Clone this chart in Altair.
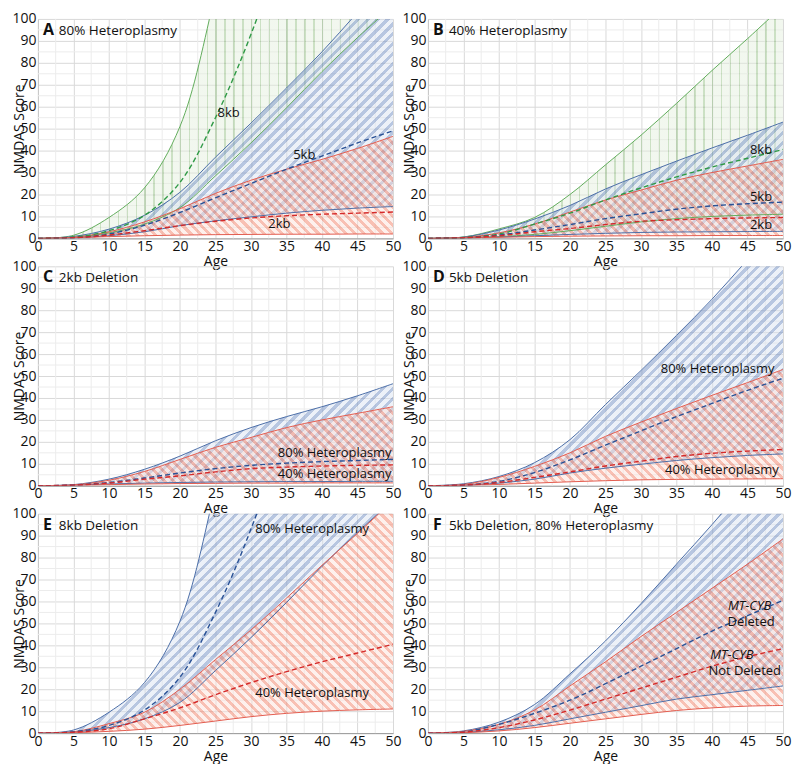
import math
import altair as alt
import pandas as pd

# ---------------- data ----------------
ages = [0, 5, 10, 15, 20, 25, 30, 35, 40, 45, 50]

kb2_h80_lo = [0, 0.3, 0.8, 1.2, 1.5, 1.7, 1.8, 1.9, 1.9, 2.0, 2.0]
kb2_h80_med = [0, 0.3, 1.5, 3.5, 5.8, 7.8, 9.3, 10.3, 11.0, 11.5, 12.0]
kb2_h80_hi = [0, 0.5, 3.0, 7.5, 13.5, 20.5, 26.5, 31.5, 36.0, 41.0, 46.5]
kb2_h40_lo = [0, 0.2, 0.5, 0.8, 1.0, 1.1, 1.2, 1.2, 1.3, 1.3, 1.3]
kb2_h40_med = [0, 0.3, 1.2, 3.0, 4.5, 6.3, 7.8, 8.5, 9.0, 9.3, 9.5]
kb2_h40_hi = [0, 0.4, 2.5, 6.5, 12.0, 17.5, 22.0, 26.5, 30.0, 33.0, 36.0]

kb5_h80_lo = [0, 0.2, 1.2, 3.0, 5.8, 8.0, 9.8, 11.5, 12.8, 13.8, 14.5]
kb5_h80_med = [0, 0.3, 2.0, 6.0, 11.8, 18.5, 25.0, 31.5, 37.5, 43.5, 49.0]
kb5_h80_hi = [0, 0.9, 4.2, 10.5, 21.0, 37.0, 52.5, 68.5, 85.0, 103.0, 121.0]
kb5_h40_lo = [0, 0.2, 0.6, 1.2, 1.8, 2.3, 2.7, 2.9, 3.0, 3.1, 3.2]
kb5_h40_med = [0, 0.3, 1.5, 3.8, 6.3, 9.0, 11.2, 13.3, 14.8, 15.8, 16.5]
kb5_h40_hi = [0, 0.6, 3.8, 8.8, 15.0, 22.5, 29.0, 35.2, 41.2, 47.0, 53.0]

kb8_h80_lo = [0, 0.5, 2.5, 6.5, 14.0, 28.5, 43.5, 59.5, 76.0, 91.5, 106.0]
kb8_h80_med = [0, 0.6, 3.5, 10.5, 25.5, 55.0, 93.0, 140.0, 195.0, 255.0, 320.0]
kb8_h80_hi = [0, 1.4, 9.5, 23.0, 51.0, 112.0, 190.0, 280.0, 380.0, 490.0, 610.0]
kb8_h40_lo = [0, 0.2, 0.8, 1.8, 3.5, 5.5, 7.5, 9.0, 10.0, 10.6, 11.0]
kb8_h40_med = [0, 0.4, 2.0, 6.5, 11.5, 17.5, 23.0, 28.0, 32.5, 36.5, 40.5]
kb8_h40_hi = [0, 0.6, 4.3, 9.5, 20.0, 33.5, 47.0, 61.5, 76.5, 91.0, 106.0]

cyb_del_lo = [0, 0.3, 1.5, 3.5, 6.5, 9.5, 12.5, 15.5, 17.5, 19.5, 21.5]
cyb_del_med = [0, 0.5, 4.0, 9.0, 15.0, 22.5, 30.5, 38.5, 46.5, 53.5, 60.5]
cyb_del_hi = [0, 1.0, 5.0, 13.0, 27.0, 42.0, 59.0, 77.0, 95.0, 114.0, 133.0]
cyb_keep_lo = [0, 0.2, 1.0, 2.5, 4.5, 6.5, 8.5, 10.3, 11.5, 12.3, 12.6]
cyb_keep_med = [0, 0.4, 2.5, 6.0, 10.5, 15.5, 20.5, 25.5, 30.5, 34.8, 38.5]
cyb_keep_hi = [0, 0.8, 4.0, 10.5, 21.5, 32.5, 44.0, 55.0, 66.0, 77.0, 88.5]

# tick labels / grid positions
x_major = [0, 5, 10, 15, 20, 25, 30, 35, 40, 45, 50]
x_minor = [2.5, 7.5, 12.5, 17.5, 22.5, 27.5, 32.5, 37.5, 42.5, 47.5]
y_major = [0, 10, 20, 30, 40, 50, 60, 70, 80, 90, 100]
y_minor = [5, 15, 25, 35, 45, 55, 65, 75, 85, 95]

panel_letters = ["A", "B", "C", "D", "E", "F"]
panel_names = ["80% Heteroplasmy", "40% Heteroplasmy", "2kb Deletion",
               "5kb Deletion", "8kb Deletion", "5kb Deletion, 80% Heteroplasmy"]

panel_bands = [
    [("green", kb8_h80_lo, kb8_h80_med, kb8_h80_hi),
     ("blue", kb5_h80_lo, kb5_h80_med, kb5_h80_hi),
     ("red", kb2_h80_lo, kb2_h80_med, kb2_h80_hi)],
    [("green", kb8_h40_lo, kb8_h40_med, kb8_h40_hi),
     ("blue", kb5_h40_lo, kb5_h40_med, kb5_h40_hi),
     ("red", kb2_h40_lo, kb2_h40_med, kb2_h40_hi)],
    [("blue", kb2_h80_lo, kb2_h80_med, kb2_h80_hi),
     ("red", kb2_h40_lo, kb2_h40_med, kb2_h40_hi)],
    [("blue", kb5_h80_lo, kb5_h80_med, kb5_h80_hi),
     ("red", kb5_h40_lo, kb5_h40_med, kb5_h40_hi)],
    [("blue", kb8_h80_lo, kb8_h80_med, kb8_h80_hi),
     ("red", kb8_h40_lo, kb8_h40_med, kb8_h40_hi)],
    [("blue", cyb_del_lo, cyb_del_med, cyb_del_hi),
     ("red", cyb_keep_lo, cyb_keep_med, cyb_keep_hi)],
]

# annotations: (text, age, score, align, italic)
panel_notes = [
    [("8kb", 25.3, 57, "left", False), ("5kb", 37.5, 38, "center", False),
     ("2kb", 34, 6.5, "center", False)],
    [("8kb", 46.9, 40.3, "center", False), ("5kb", 46.9, 18.8, "center", False),
     ("2kb", 46.9, 6.3, "center", False)],
    [("80% Heteroplasmy", 49.8, 14.7, "right", False),
     ("40% Heteroplasmy", 49.8, 5.5, "right", False)],
    [("80% Heteroplasmy", 48.8, 53, "right", False),
     ("40% Heteroplasmy", 49.4, 7, "right", False)],
    [("80% Heteroplasmy", 30.6, 93, "left", False),
     ("40% Heteroplasmy", 30.6, 18.3, "left", False)],
    [("MT-CYB", 45.3, 58, "center", True), ("Deleted", 45.5, 50.8, "center", False),
     ("MT-CYB", 42.8, 35.5, "center", True), ("Not Deleted", 44.6, 28.5, "center", False)],
]

# ---------------- styling ----------------
FONT = "Open Sans"
W, H = 356, 220
CAP = 200
INTERP = "catmull-rom"
MINOR_GRID = "#ececec"

STYLE = {
    "green": dict(edge="#62ad5c", dash="#2f9a46", line="rgba(120,175,100,0.38)",
                  gap="rgba(226,238,219,0.45)", kind="vertical", period=9.0, frac=0.16),
    "blue": dict(edge="#4c6ea8", dash="#2a5296", line="rgba(125,152,200,0.55)",
                 gap="rgba(214,224,240,0.45)", kind="up", period=7.0, frac=0.45),
    "red": dict(edge="#e35d50", dash="#d42a2a", line="rgba(242,130,105,0.50)",
                gap="rgba(252,222,214,0.45)", kind="down", period=6.5, frac=0.45),
}


def hatch(style, top):
    s = STYLE[style]
    hb = max(min(top, CAP), 1) * H / 100.0
    if s["kind"] == "vertical":
        n = max(int(round(W / s["period"])), 1)
        x1, y1, x2, y2 = 0, 0, 1, 0
    else:
        k = (W + hb) / (W * W + hb * hb)
        n = max(int(round((W + hb) / (s["period"] * math.sqrt(2)))), 1)
        if s["kind"] == "up":
            x1, y1, x2, y2 = 0, 0, W * k, hb * k
        else:
            x1, y1, x2, y2 = 0, 1, W * k, 1 - hb * k
    stops = []
    for i in range(n):
        a = i / n
        b = (i + s["frac"]) / n
        c = (i + 1) / n
        stops += [alt.GradientStop(color=s["line"], offset=a),
                  alt.GradientStop(color=s["line"], offset=b),
                  alt.GradientStop(color=s["gap"], offset=b),
                  alt.GradientStop(color=s["gap"], offset=c)]
    return alt.Gradient(gradient="linear", stops=stops, x1=x1, y1=y1, x2=x2, y2=y2)


XAXIS = alt.Axis(
    title="Age", values=x_major, ticks=False, grid=True, gridColor="#d9d9d9",
    gridWidth=1, domainColor="#9a9a9a", labelFont=FONT, labelFontSize=14,
    labelColor="#111", labelPadding=1, labelOverlap=False, labelFlush=False,
    titleFont=FONT, titleFontSize=14, titleFontWeight="normal", titleColor="#111",
    titleY=27, titleBaseline="alphabetic",
)
YAXIS = alt.Axis(
    title="NMDAS Score", values=y_major, ticks=False, grid=True, gridColor="#d9d9d9",
    gridWidth=1, domainColor="#c8c8c8", labelFont=FONT, labelFontSize=14,
    labelColor="#111", labelPadding=2, labelOverlap=False, labelFlush=False,
    titleFont=FONT, titleFontSize=14, titleFontWeight="normal", titleColor="#111",
    titleX=-11, titleY=H / 2,
)

XSCALE = alt.Scale(domain=[0, 50], nice=False, zero=False)
YSCALE = alt.Scale(domain=[0, 100], nice=False)


def xenc(field="age"):
    return alt.X(f"{field}:Q", scale=XSCALE, axis=XAXIS)


def yenc(field):
    return alt.Y(f"{field}:Q", scale=YSCALE, axis=YAXIS)


def panel(letter, name, bands, notes):
    grids, areas, edges, dashes, texts = [], [], [], [], []
    grids.append(alt.Chart(pd.DataFrame({"gx": x_minor})).mark_rule(
        color=MINOR_GRID, strokeWidth=1).encode(x=xenc("gx")))
    grids.append(alt.Chart(pd.DataFrame({"gy": y_minor})).mark_rule(
        color=MINOR_GRID, strokeWidth=1).encode(y=yenc("gy")))
    for style, lo, med, hi in bands:
        s = STYLE[style]
        df = pd.DataFrame({"age": ages, "lo": lo, "med": med, "hi": hi})
        base = alt.Chart(df).transform_calculate(hic=f"min(datum.hi, {CAP})")
        areas.append(base.mark_area(clip=True, interpolate=INTERP,
                                    color=hatch(style, max(hi)))
                     .encode(x=xenc(), y=yenc("lo"), y2="hic:Q"))
        for fld in ("lo", "hic"):
            edges.append(base.mark_line(clip=True, interpolate=INTERP,
                                        color=s["edge"], strokeWidth=1)
                         .encode(x=xenc(), y=yenc(fld)))
        dashes.append(base.mark_line(clip=True, interpolate=INTERP, color=s["dash"],
                                     strokeWidth=1.4, strokeDash=[5, 3])
                      .encode(x=xenc(), y=yenc("med")))
    for txt, a, v, align, italic in notes:
        ndf = pd.DataFrame({"age": [a], "val": [v], "t": [txt]})
        texts.append(alt.Chart(ndf).mark_text(
            align=align, baseline="middle", font=FONT, fontSize=13, color="#111",
            fontStyle="italic" if italic else "normal")
            .encode(x=xenc(), y=yenc("val"), text="t:N"))
    tdf = pd.DataFrame({"t": [letter], "n": [name]})
    texts.append(alt.Chart(tdf).mark_text(align="left", baseline="alphabetic", font=FONT,
                                          fontSize=16, fontWeight="bold", color="#111")
                 .encode(x=alt.value(5), y=alt.value(16), text="t:N"))
    texts.append(alt.Chart(tdf).mark_text(align="left", baseline="alphabetic", font=FONT,
                                          fontSize=13.5, color="#111")
                 .encode(x=alt.value(21), y=alt.value(16), text="n:N"))
    return alt.layer(*grids, *areas, *edges, *dashes, *texts).properties(width=W, height=H)


panels = [panel(panel_letters[i], panel_names[i], panel_bands[i], panel_notes[i])
          for i in range(6)]

chart = (
    alt.concat(*panels, columns=2, spacing={"row": 28, "column": 35}, bounds="flush")
    .properties(padding={"top": 3, "left": 3, "right": 0, "bottom": 0},
                background="white")
    .configure_view(stroke=None)
)

chart.save("out.html", embed_options={"renderer": "svg", "actions": False})
